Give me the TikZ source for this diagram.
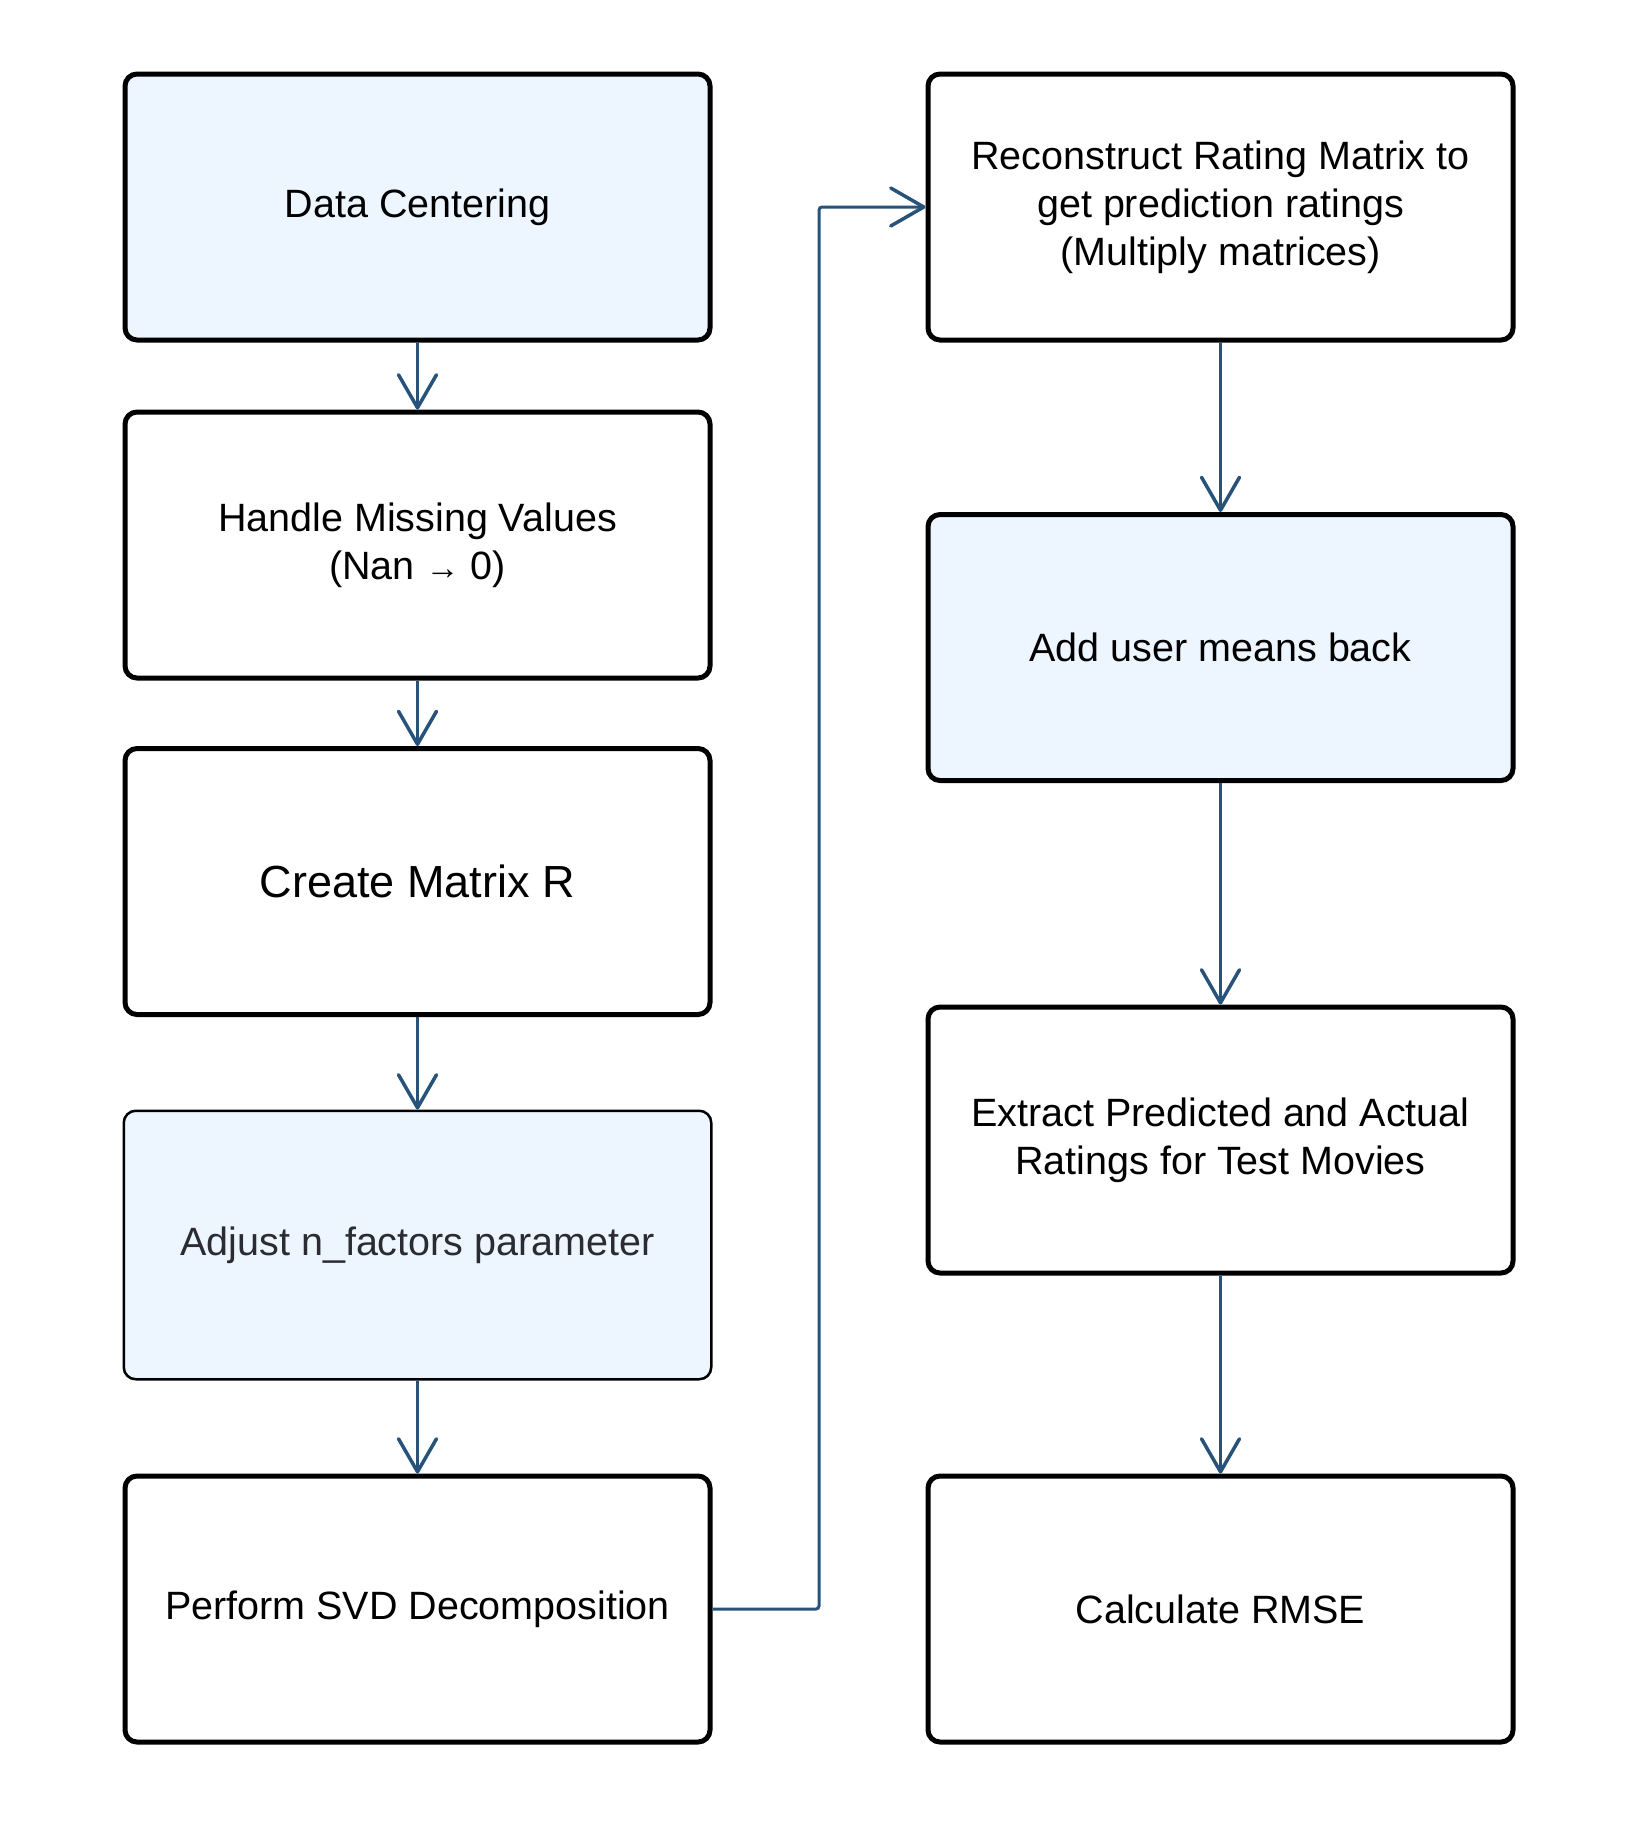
\documentclass[tikz,border=0pt]{standalone}
\usepackage{fontspec}
\setmainfont{Liberation Sans}
\usetikzlibrary{arrows.meta}
\definecolor{boxblue}{HTML}{EDF5FF}
\definecolor{arrowblue}{HTML}{27527A}
\definecolor{darktext}{HTML}{2B2B33}
\tikzset{
  x=1pt,y=1pt,
  stepbox/.style={draw=black, line width=5pt, rounded corners=12pt,
    minimum width=585pt, minimum height=266pt, align=center, inner sep=0pt,
    font=\fontsize{39.5}{48}\selectfont, text=black},
  bluebox/.style={stepbox, fill=boxblue},
  thinbox/.style={bluebox, line width=2.5pt, minimum width=587.5pt, minimum height=268.5pt, text=darktext},
  conn/.style={draw=arrowblue, line width=3pt,
    -{Straight Barb[length=33pt, width=38pt, line width=3.5pt, round]}}
}
\begin{document}
\begin{tikzpicture}
\useasboundingbox (0,0) rectangle (1628,-1834);
\fill[white] (0,0) rectangle (1628,-1834);
% left column
\node[bluebox] (b1) at (417.5,-207) {Data Centering};
\node[stepbox] (b2) at (417.5,-545) {Handle Missing Values\\(Nan {\fontsize{34}{30}\selectfont →} 0)};
\node[stepbox, font=\fontsize{45}{54}\selectfont] (b3) at (417.5,-881.5) {Create Matrix R};
\node[thinbox] (b4) at (417.5,-1245) {Adjust n\_factors parameter};
\node[stepbox] (b5) at (417.5,-1609) {Perform SVD Decomposition};
% right column
\node[stepbox] (r1) at (1220.5,-207) {Reconstruct Rating Matrix to\\get prediction ratings\\(Multiply matrices)};
\node[bluebox] (r2) at (1220.5,-647.5) {Add user means back};
\node[stepbox] (r3) at (1220.5,-1140) {Extract Predicted and Actual\\Ratings for Test Movies};
\node[stepbox] (r4) at (1220.5,-1609) {Calculate RMSE};
% connectors
\draw[conn] (b1) -- (b2);
\draw[conn] (b2) -- (b3);
\draw[conn] (b3) -- (b4);
\draw[conn] (b4) -- (b5);
\coordinate (mx) at (819,0);
\draw[conn, rounded corners=3pt] (b5.east) -- (mx |- b5.east) -- (mx |- r1.west) -- (r1.west);
\draw[conn] (r1) -- (r2);
\draw[conn] (r2) -- (r3);
\draw[conn] (r3) -- (r4);
\end{tikzpicture}
\end{document}
